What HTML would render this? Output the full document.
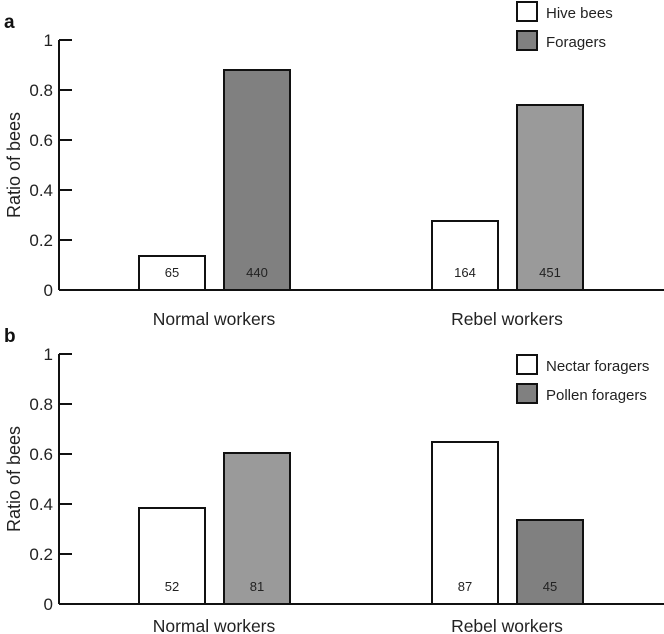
<!DOCTYPE html>
<html><head><meta charset="utf-8"><style>
body{margin:0;background:#fff;}
svg{display:block;font-family:"Liberation Sans",Arial,sans-serif;}
</style></head><body>
<svg id="chart" width="664" height="634"></svg>
<script>
const categories = ["Normal workers", "Rebel workers"];
const panelALabels = ["Hive bees", "Foragers"];
const panelAValues1 = [0.136, 0.276];
const panelAValues2 = [0.88, 0.74];
const panelACounts1 = ["65", "164"];
const panelACounts2 = ["440", "451"];
const panelBLabels = ["Nectar foragers", "Pollen foragers"];
const panelBValues1 = [0.384, 0.648];
const panelBValues2 = [0.604, 0.336];
const panelBCounts1 = ["52", "87"];
const panelBCounts2 = ["81", "45"];
const yTicks = [0, 0.2, 0.4, 0.6, 0.8, 1];
const yTickLabels = ["0", "0.2", "0.4", "0.6", "0.8", "1"];

const svg = document.getElementById('chart');
const NS = 'http://www.w3.org/2000/svg';
function mk(tag, attrs, parent){const e=document.createElementNS(NS,tag);for(const k in attrs)e.setAttribute(k,attrs[k]);(parent||svg).appendChild(e);return e;}

function panel(letter, y0, v1, v2, c1, c2, colors2, legend, legY, catDy){
  const g = mk('g', {});
  
  
  const yScale = v => y0 - v * 250;
  const axisX = 59;
  const groupX = [139, 432];
  const xBar = (gi, s) => groupX[gi] + s * 85;
  const lt = mk('text', {x:4, y:y0-262, 'font-size':19, 'font-weight':'bold', fill:'#111'}, g);
  lt.textContent = letter;
  
  
  const ax = mk('line', {x1:axisX, y1:yScale(1), x2:axisX, y2:y0, stroke:'#111', 'stroke-width':2}, g);
  
  
  const bl = mk('line', {x1:axisX, y1:y0, x2:664, y2:y0, stroke:'#111', 'stroke-width':2}, g);
  
  
  yTicks.forEach((t,i)=>{
    const tk = mk('line', {x1:axisX, y1:yScale(t), x2:axisX+13, y2:yScale(t), stroke:'#111', 'stroke-width':2}, g);
    
    
    const tl = mk('text', {x:axisX-6, y:yScale(t)+6, 'font-size':17, 'text-anchor':'end', fill:'#222'}, g);
    tl.textContent = yTickLabels[i];
    
    
  });
  const yt = mk('text', {x:0, y:0, 'font-size':18, 'text-anchor':'middle', fill:'#222', transform:`translate(20,${yScale(0.5)}) rotate(-90)`}, g);
  yt.textContent = 'Ratio of bees';
  
  
  categories.forEach((c,gi)=>{
    [[v1,c1,'#ffffff'],[v2,c2,colors2[gi]]].forEach((s,si)=>{
      const x = xBar(gi, si), w = 66;
      const r = mk('rect', {x:x, y:yScale(s[0][gi]), width:w, height:y0-yScale(s[0][gi]), fill:s[2], stroke:'#111', 'stroke-width':2}, g);
      
      
      const n = mk('text', {x:x+w/2, y:y0-13, 'font-size':13, 'text-anchor':'middle', fill:'#222'}, g);
      n.textContent = s[1][gi];
      
      
    });
    const cl = mk('text', {x:groupX[gi]+75, y:y0+catDy, 'font-size':17.5, 'text-anchor':'middle', fill:'#222'}, g);
    cl.textContent = c;
    
    
  });
  legend.forEach((l,i)=>{
    const ly = legY + i*29;
    const b = mk('rect', {x:517, y:ly, width:20, height:19, fill:i?'#808080':'#fff', stroke:'#111', 'stroke-width':2}, g);
    
    
    const t = mk('text', {x:546, y:ly+16, 'font-size':15, fill:'#222'}, g);
    t.textContent = l;
    
    
  });
}
panel('a', 290, panelAValues1, panelAValues2, panelACounts1, panelACounts2, ['#808080','#9a9a9a'], panelALabels, 2, 35);
panel('b', 604, panelBValues1, panelBValues2, panelBCounts1, panelBCounts2, ['#9a9a9a','#808080'], panelBLabels, 355, 28);
</script>
</body></html>
